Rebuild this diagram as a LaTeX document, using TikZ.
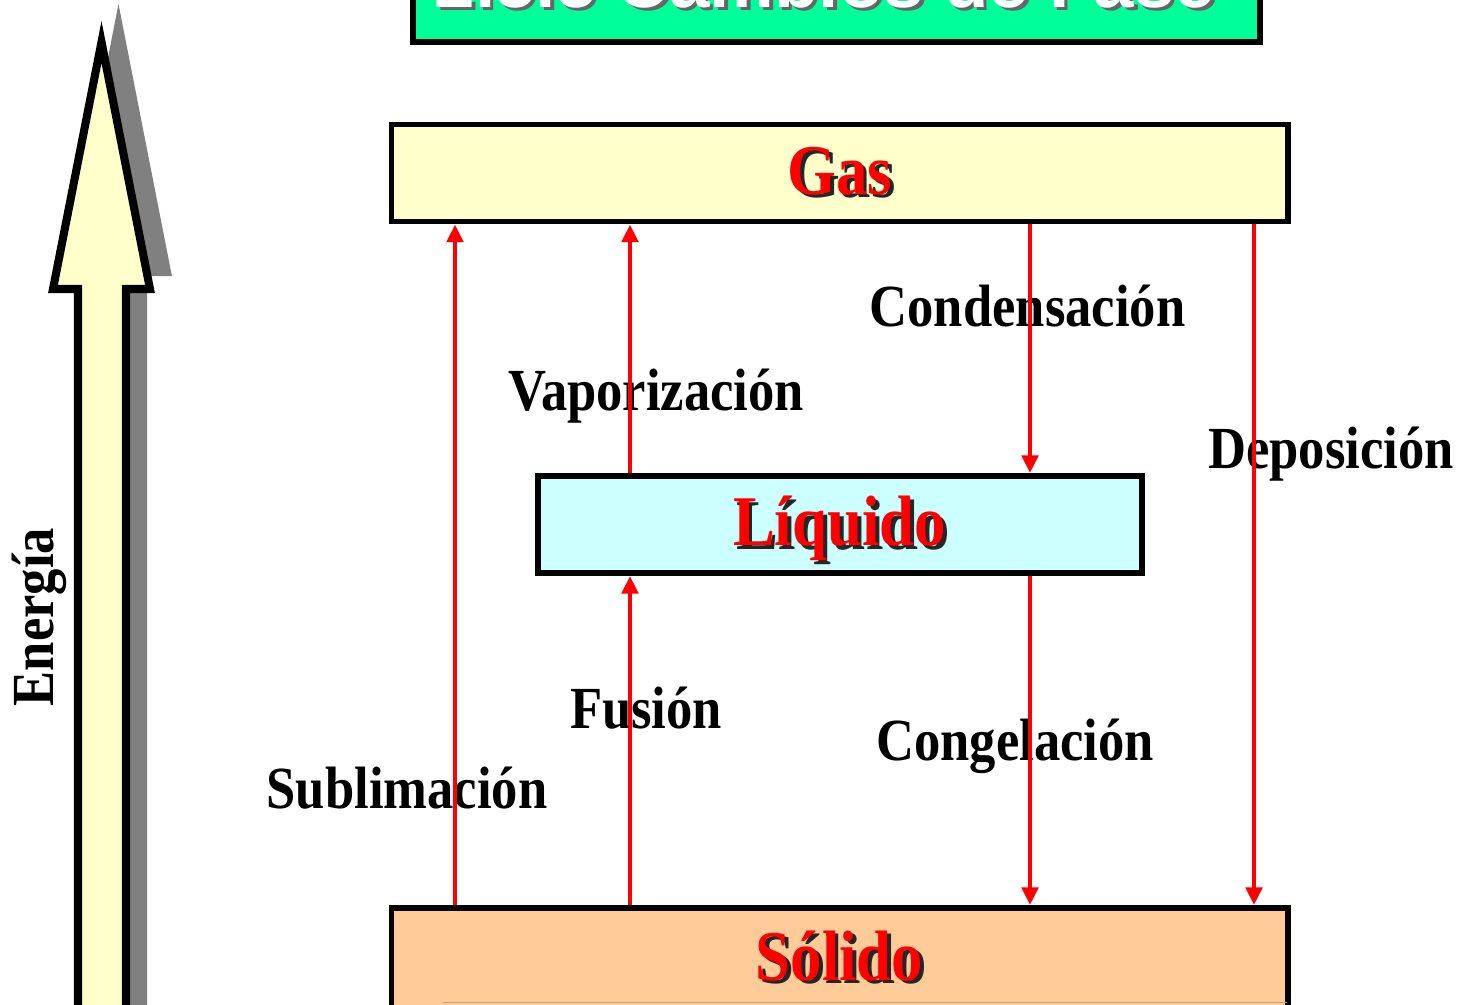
\documentclass[tikz,border=0pt]{standalone}
\usepackage{fontspec}
\setmainfont{Liberation Serif}[FakeStretch=0.88]
\newfontfamily\titlefont{Liberation Sans}
\usepackage{tikz}
\usetikzlibrary{arrows.meta,positioning}
\definecolor{titlegreen}{HTML}{00FF99}
\definecolor{gasfill}{HTML}{FFFFCC}
\definecolor{liqfill}{HTML}{CCFFFF}
\definecolor{solfill}{HTML}{FFCC99}
\definecolor{shadowgray}{HTML}{808080}
\definecolor{tanline}{HTML}{C8A078}
\newcommand{\phasetext}[1]{\rlap{\kern1.1pt\raisebox{-1.1pt}{\color{black!85}#1}}{\color{red}#1}}
\newcommand{\titletext}[1]{\rlap{\kern1pt\raisebox{-1pt}{\color{black!60}#1}}{\color{white}#1}}
\tikzset{
    phasename/.style={
           font=\fontsize{20.3}{23}\selectfont\bfseries,
           },
    phase/.style={
           rectangle,
           draw=black,
           line width=1.7pt,
           minimum width=8.96cm,
           minimum height=0.97cm,
           text height=12pt,
           text depth=0pt,
           inner sep=2pt,
           phasename,
           },
    change/.style={
           anchor=base,
           inner sep=0pt,
           font=\fontsize{17}{20}\selectfont\bfseries,
           },
    flow/.style={
           ->,
           draw=red,
           line width=1.35pt,
           },
    energybody/.style={
           draw=black,
           fill=gasfill,
           line width=2.3pt,
           miter limit=10,
           },
    energyshadow/.style={
           draw=shadowgray,
           fill=shadowgray,
           line width=2.3pt,
           miter limit=10,
           },
}

\begin{document}
\begin{tikzpicture}[>={Triangle[width=4.6pt,length=5pt]}]
\useasboundingbox (0,0) rectangle (14.59,-10.04);
% energy arrow with its shadow
\draw[energyshadow,shift={(0.17,0.17)}] (0.78,-10.6) -- (0.78,-2.89) -- (0.53,-2.89) -- (1.015,-0.42)
      -- (1.50,-2.89) -- (1.26,-2.89) -- (1.26,-10.6) -- cycle;
\draw[energybody] (0.78,-10.6) -- (0.78,-2.89) -- (0.53,-2.89) -- (1.015,-0.42)
      -- (1.50,-2.89) -- (1.26,-2.89) -- (1.26,-10.6) -- cycle;
\node[change,rotate=90] (energia) at (0.53,-6.17) {Energía};
% title
\node[draw=black,line width=1.7pt,fill=titlegreen,minimum width=8.47cm,minimum height=1.2cm,anchor=south] (titlebox) at (8.365,-0.45) {};
\node[anchor=base,inner sep=0pt,font=\titlefont\fontsize{20.7}{24}\selectfont\bfseries] (titlelabel) at (8.25,-0.07) {\titletext{2.5.5 Cambios de Fase}};
% phases
\node[phase,fill=gasfill] (gas) at (8.395,-1.73) {\phasetext{Gas}};
\node[phase,fill=liqfill,minimum width=6.04cm] (liquido) at (8.395,-5.245) {\phasetext{Líquido}};
\node[phase,fill=solfill,minimum height=1.6cm,anchor=north] (solido) at (8.395,-9.05) {};
\node[phasename,anchor=base,inner sep=0pt] (solidolabel) at (8.395,-9.80) {\phasetext{Sólido}};
\draw[tanline,line width=0.4pt] (4.43,-10.025) -- (12.87,-10.025);
% changes of phase
\node[change] (condensacion) at (10.275,-3.26) {Condensación};
\node[change] (vaporizacion) at (6.56,-4.10) {Vaporización};
\node[change] (deposicion) at (13.31,-4.68) {Deposición};
\node[change] (fusion) at (6.46,-7.28) {Fusión};
\node[change] (congelacion) at (10.15,-7.60) {Congelación};
\node[change] (sublimacion) at (4.07,-8.08) {Sublimación};
\coordinate (sublim) at (4.55,0);
\coordinate (vapor) at (6.30,0);
\coordinate (conden) at (10.30,0);
\coordinate (depos) at (12.54,0);
\draw[flow] (solido.north -| sublim) -- (gas.south -| sublim);
\draw[flow] (liquido.north -| vapor) -- (gas.south -| vapor);
\draw[flow] (solido.north -| vapor) -- (liquido.south -| vapor);
\draw[flow] (gas.south -| conden) -- (liquido.north -| conden);
\draw[flow] (liquido.south -| conden) -- (solido.north -| conden);
\draw[flow] (gas.south -| depos) -- (solido.north -| depos);
\end{tikzpicture}
\end{document}
